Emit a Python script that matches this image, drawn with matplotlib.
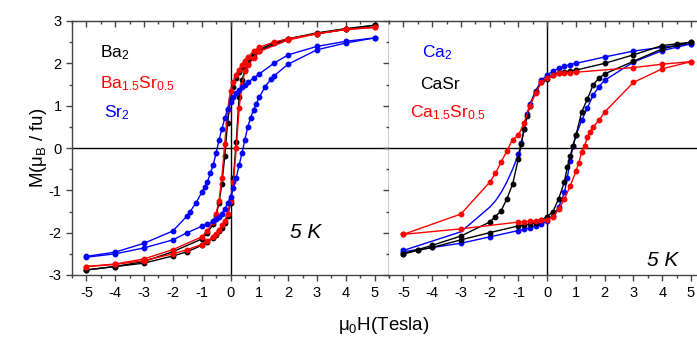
import numpy as np
import matplotlib
matplotlib.use("Agg")
import matplotlib.pyplot as plt
from matplotlib.ticker import MultipleLocator

plt.rcParams['font.family'] = ['Liberation Sans', 'DejaVu Sans']
plt.rcParams['mathtext.fontset'] = 'custom'
plt.rcParams['mathtext.rm'] = 'Liberation Sans'
plt.rcParams['mathtext.it'] = 'Liberation Sans:italic'

# ---- left panel: Ba2, Ba1.5Sr0.5, Sr2 (field in T, M in muB/fu) ----
h_down = [5, 4, 3, 2, 1.5, 1, 0.8, 0.6, 0.5, 0.4, 0.3, 0.2, 0.1, 0, -0.1, -0.2, -0.3,
          -0.4, -0.5, -0.6, -0.8, -1, -2, -3, -4, -5]
h_up = [-x for x in h_down]

ba2_down = [2.9, 2.8, 2.7, 2.58, 2.48, 2.33, 2.22, 2.1, 2.02, 1.92, 1.8, 1.65, 1.45, 1.15,
            0.6, -0.2, -0.85, -1.3, -1.6, -1.8, -2.0, -2.15, -2.45, -2.68, -2.8, -2.88]
ba2_up = [-2.88, -2.8, -2.72, -2.55, -2.45, -2.3, -2.22, -2.12, -2.05, -1.97, -1.88, -1.78,
          -1.6, -1.3, -0.7, 0.15, 1.2, 1.6, 1.85, 1.98, 2.15, 2.3, 2.58, 2.72, 2.82, 2.9]

basr_down = [2.85, 2.8, 2.7, 2.58, 2.5, 2.38, 2.28, 2.15, 2.06, 1.96, 1.85, 1.72, 1.55, 1.35,
             0.9, 0.1, -0.7, -1.25, -1.55, -1.75, -1.95, -2.1, -2.4, -2.62, -2.74, -2.8]
basr_up = [-2.8, -2.75, -2.66, -2.5, -2.4, -2.28, -2.2, -2.1, -2.02, -1.93, -1.83, -1.72,
           -1.55, -1.25, -0.8, 0.0, 0.95, 1.5, 1.82, 1.95, 2.12, 2.28, 2.55, 2.7, 2.8, 2.85]

h_sr_down = [5, 4, 3, 2, 1.5, 1, 0.8, 0.6, 0.5, 0.4, 0.3, 0.2, 0.1, 0, -0.1, -0.2, -0.3,
             -0.4, -0.5, -0.6, -0.7, -0.8, -0.9, -1, -1.2, -1.4, -1.5, -2, -3, -4, -5]
h_sr_up = [-x for x in h_sr_down]
sr2_down = [2.6, 2.52, 2.4, 2.2, 2.0, 1.75, 1.65, 1.55, 1.5, 1.44, 1.38, 1.3, 1.2, 1.08,
            0.92, 0.7, 0.45, 0.18, -0.12, -0.4, -0.6, -0.8, -0.93, -1.05, -1.3, -1.5, -1.6,
            -1.96, -2.25, -2.46, -2.56]
sr2_up = [-2.58, -2.5, -2.36, -2.17, -2.0, -1.85, -1.8, -1.73, -1.68, -1.62, -1.55, -1.45,
          -1.3, -1.15, -0.95, -0.7, -0.4, -0.12, 0.2, 0.5, 0.72, 0.9, 1.05, 1.2, 1.45, 1.62,
          1.7, 1.98, 2.32, 2.48, 2.6]

# ---- right panel: Ca2, CaSr, Ca1.5Sr0.5 ----
h_ca_down = [5, 4.5, 4, 3, 2, 1, 0.8, 0.6, 0.4, 0.2, 0, -0.2, -0.4, -0.6, -0.7, -0.8, -0.9,
             -1, -1.2, -1.4, -1.6, -1.8, -2, -3, -4, -5]
h_ca_up = [-x for x in h_ca_down]
ca2_down = [2.46, 2.42, 2.38, 2.29, 2.15, 2.0, 1.97, 1.93, 1.88, 1.82, 1.72, 1.6, 1.35, 1.04,
            0.8, 0.45, 0.12, -0.15, -0.5, -0.8, -1.05, -1.25, -1.4, -1.98, -2.2, -2.42]
ca2_up = [-2.45, -2.4, -2.35, -2.25, -2.1, -1.95, -1.92, -1.88, -1.84, -1.8, -1.73, -1.6,
          -1.4, -1.05, -0.7, -0.3, 0.05, 0.3, 0.65, 0.95, 1.25, 1.45, 1.6, 2.03, 2.3, 2.46]
# the Ca2 down sweep below -1 T was recorded without point markers
ca2_down_marked = [h >= -1 or h == -5 for h in h_ca_down]

casr_down = [2.5, 2.46, 2.42, 2.2, 2.0, 1.84, 1.82, 1.8, 1.78, 1.72, 1.62, 1.55, 1.33, 1.0,
             0.75, 0.45, 0.1, -0.25, -0.85, -1.2, -1.48, -1.62, -1.75, -2.08, -2.3, -2.5]
casr_up = [-2.5, -2.42, -2.35, -2.17, -2.0, -1.84, -1.82, -1.8, -1.76, -1.7, -1.62, -1.5,
           -1.2, -0.8, -0.45, -0.19, 0.05, 0.3, 0.85, 1.16, 1.49, 1.65, 1.75, 2.05, 2.34, 2.5]

h_mix_down = [5, 4, 3, 1, 0.8, 0.6, 0.4, 0.2, 0, -0.2, -0.4, -0.6, -0.8, -1, -1.2, -1.4,
              -1.6, -1.8, -2, -3, -5]
h_mix_up = [-5, -3, -1, -0.8, -0.6, -0.4, -0.2, 0, 0.2, 0.4, 0.6, 0.8, 1, 1.1, 1.2, 1.3,
            1.4, 1.5, 1.6, 1.8, 2, 3, 4, 5]
mix_down = [2.04, 1.98, 1.9, 1.79, 1.78, 1.77, 1.76, 1.72, 1.66, 1.55, 1.3, 1.0, 0.6, 0.3,
            0.2, -0.07, -0.33, -0.6, -0.81, -1.56, -2.04]
mix_up = [-2.04, -1.91, -1.75, -1.74, -1.73, -1.72, -1.71, -1.7, -1.63, -1.45, -1.2, -0.9,
          -0.55, -0.35, -0.1, 0.05, 0.25, 0.38, 0.5, 0.65, 0.85, 1.55, 1.87, 2.04]

fig = plt.figure(figsize=(6.97, 3.43), dpi=100)
ax1 = fig.add_axes([72 / 697, 68 / 343, 317 / 697, 254 / 343])
ax2 = fig.add_axes([389 / 697, 68 / 343, 308 / 697, 254 / 343])

style = dict(marker='o', markersize=3.2, linewidth=1.0)


def loop(ax, hd, md, hu, mu, color, mark_down=None):
    ax.plot(hd, md, color=color, markevery=mark_down, **style)
    ax.plot(hu, mu, color=color, **style)


loop(ax1, h_down, ba2_down, h_up, ba2_up, 'black')
loop(ax1, h_down, basr_down, h_up, basr_up, 'red')
loop(ax1, h_sr_down, sr2_down, h_sr_up, sr2_up, 'blue')

loop(ax2, h_ca_down, ca2_down, h_ca_up, ca2_up, 'blue', ca2_down_marked)
loop(ax2, h_ca_down, casr_down, h_ca_up, casr_up, 'black')
loop(ax2, h_mix_down, mix_down, h_mix_up, mix_up, 'red')

for ax in (ax1, ax2):
    ax.set_ylim(-3, 3)
    ax.axhline(0, color='black', lw=1, zorder=0)
    ax.axvline(0, color='black', lw=1, zorder=0)
    ax.xaxis.set_major_locator(MultipleLocator(1))
    ax.xaxis.set_minor_locator(MultipleLocator(0.5))
    ax.yaxis.set_major_locator(MultipleLocator(1))
    ax.yaxis.set_minor_locator(MultipleLocator(0.5))
    ax.tick_params(axis='x', which='both', bottom=True, top=False, direction='out',
                   labelsize=10.5, pad=4)
    ax.tick_params(which='major', length=4, width=1, color='#444444')
    ax.tick_params(which='minor', length=2.5, width=1, color='#444444')
    for s in ax.spines.values():
        s.set_color('#444444')
        s.set_linewidth(1)
    # inward ticks on the top edge
    top = ax.secondary_xaxis('top')
    top.xaxis.set_major_locator(MultipleLocator(1))
    top.xaxis.set_minor_locator(MultipleLocator(0.5))
    top.tick_params(which='both', direction='in', labeltop=False, width=1, color='#444444')
    top.tick_params(which='major', length=4)
    top.tick_params(which='minor', length=2.5)
    top.spines['top'].set_color('#444444')
    ax.set_xticks(range(-5, 6))
    ax.set_xticklabels([str(v) for v in range(-5, 6)])

ax1.set_xlim(-5.5, 5.5)
ax2.set_xlim(-5.5, 5.21)

ax1.tick_params(axis='y', which='both', left=True, right=False, direction='out',
                labelsize=10.5)
ax1.set_yticks(range(-3, 4))
ax1.set_yticklabels([str(v) for v in range(-3, 4)])
right = ax1.secondary_yaxis('right')
right.yaxis.set_major_locator(MultipleLocator(1))
right.yaxis.set_minor_locator(MultipleLocator(0.5))
right.tick_params(which='both', direction='in', labelright=False, width=1, color='#444444')
right.tick_params(which='major', length=4)
right.tick_params(which='minor', length=2.5)

ax2.tick_params(axis='y', which='both', left=False, labelleft=False)
ax2.spines['right'].set_visible(False)
ax2.spines['left'].set_visible(False)

ax1.set_ylabel(r'M($\mathregular{\mu_B}$ / fu)', fontsize=13.5, labelpad=0)
fig.text(384 / 697, 0.052, r'$\mathregular{\mu_0}$H(Tesla)', fontsize=13.5,
         ha='center', va='center')

fs = 12.5
ax1.text(-4.54, 2.15, r'$\mathregular{Ba_2}$', color='black', fontsize=fs)
ax1.text(-4.54, 1.42, r'$\mathregular{Ba_{1.5}Sr_{0.5}}$', color='red', fontsize=fs)
ax1.text(-4.4, 0.73, r'$\mathregular{Sr_2}$', color='blue', fontsize=fs)
ax1.text(2.6, -2.0, '5 K', fontsize=15, style='italic', ha='center', va='center')

ax2.text(-4.34, 2.15, r'$\mathregular{Ca_2}$', color='blue', fontsize=fs)
ax2.text(-4.41, 1.4, 'CaSr', color='black', fontsize=fs)
ax2.text(-4.76, 0.73, r'$\mathregular{Ca_{1.5}Sr_{0.5}}$', color='red', fontsize=fs)
ax2.text(4.0, -2.65, '5 K', fontsize=15, style='italic', ha='center', va='center')

fig.savefig('out.png', dpi=100)
